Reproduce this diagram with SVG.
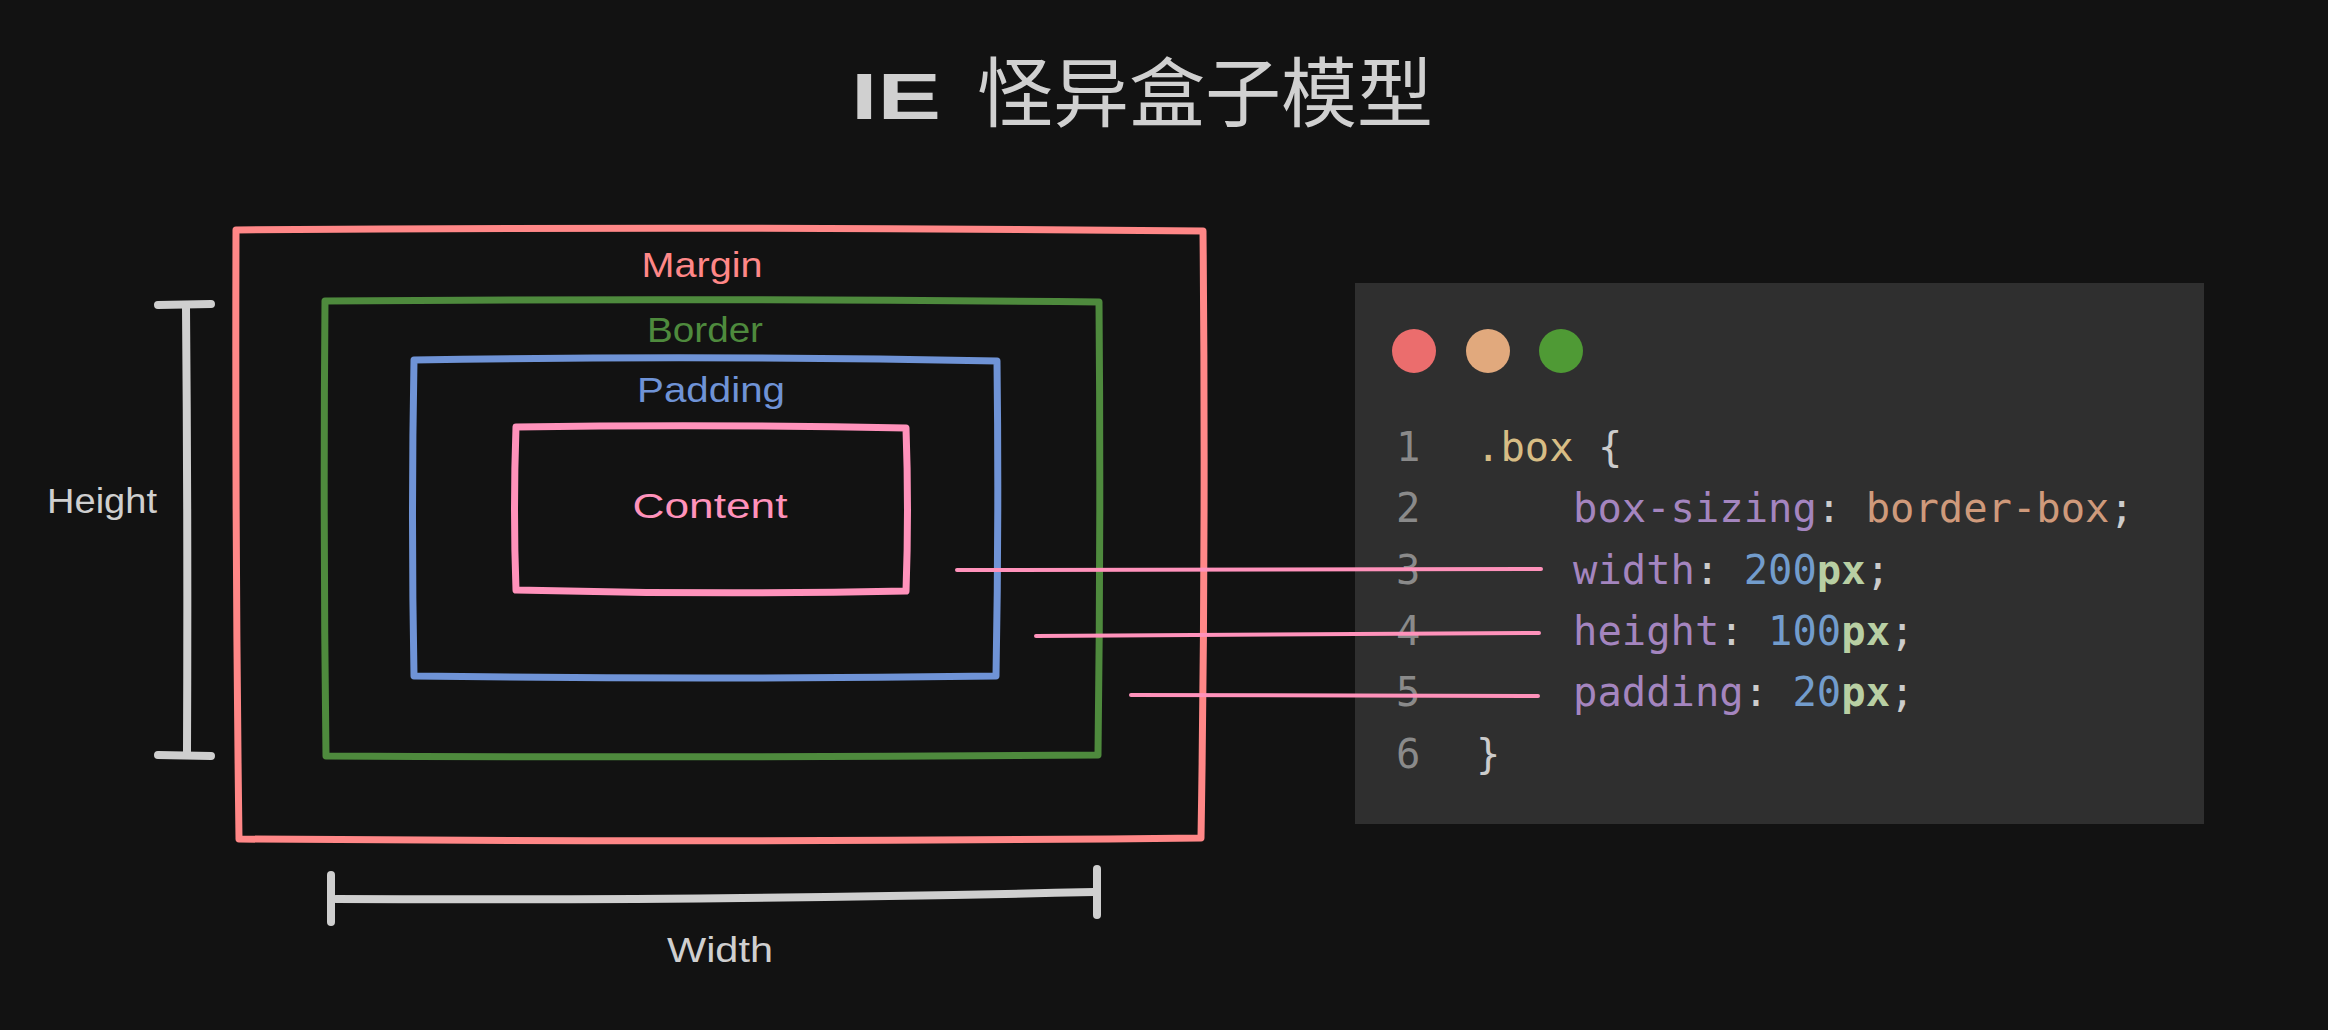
<svg xmlns="http://www.w3.org/2000/svg" width="2328" height="1030" viewBox="0 0 2328 1030">
<style>
.hand{font-family:"Liberation Sans","Noto Sans",sans-serif;text-anchor:middle}
.box{fill:none;stroke-linejoin:round;stroke-linecap:round}
.dim{fill:none;stroke:#cfcfcf;stroke-width:8;stroke-linecap:round}
.conn{fill:none;stroke:#ff92bb;stroke-width:4;stroke-linecap:round}
.code{font-family:"DejaVu Sans Mono","Liberation Mono",monospace;font-size:40.5px;white-space:pre}
.ln{fill:#8a8a8a}
.sel{fill:#d7bd85}
.br{fill:#cccccc}
.prop{fill:#a485bf}
.val{fill:#cf9a7b}
.num{fill:#729ccc}
.px{fill:#b8cfa3;font-weight:bold}
</style>
<rect width="2328" height="1030" fill="#121212"/>
<g id="title" fill="#d0d0d0">
<text x="851" y="119" font-family="Liberation Sans, sans-serif" font-size="64" font-weight="bold" textLength="90" lengthAdjust="spacingAndGlyphs">IE</text>
<text x="977" y="121" font-family="Noto Sans CJK SC, sans-serif" font-size="76">怪异盒子模型</text>
</g>

<g id="margin">
<path class="box" stroke="#ff8787" stroke-width="7" d="M236 230 Q720 226 1203 231 Q1206 535 1201 838 Q720 843 239 839 Q235 535 236 230 Z"/>
<text class="hand" x="702" y="277" font-size="35" fill="#ff8787" textLength="121" lengthAdjust="spacingAndGlyphs">Margin</text>
</g>
<g id="border">
<path class="box" stroke="#4e8a3d" stroke-width="7" d="M325 301 Q712 298 1099 302 Q1101 530 1098 755 Q712 758 326 756 Q323 530 325 301 Z"/>
<text class="hand" x="705" y="342" font-size="35" fill="#4e8a3d" textLength="116" lengthAdjust="spacingAndGlyphs">Border</text>
</g>
<g id="padding">
<path class="box" stroke="#6f93d6" stroke-width="7" d="M414 360 Q705 355 997 361 Q999 520 996 676 Q705 680 414 676 Q411 520 414 360 Z"/>
<text class="hand" x="711" y="402" font-size="35" fill="#6f93d6" textLength="148" lengthAdjust="spacingAndGlyphs">Padding</text>
</g>
<g id="content">
<path class="box" stroke="#ff92bb" stroke-width="7" d="M516 427 Q711 424 906 428 Q909 510 906 591 Q711 595 516 590 Q513 510 516 427 Z"/>
<text class="hand" x="710" y="518" font-size="35" fill="#ff92bb" textLength="155" lengthAdjust="spacingAndGlyphs">Content</text>
</g>

<g id="height-dim">
<path class="dim" d="M186 308 Q188 530 187 752"/>
<path class="dim" d="M158 305 L211 304"/>
<path class="dim" d="M158 755 L211 756"/>
<text class="hand" x="102" y="513" font-size="35" fill="#cfcfcf" textLength="110" lengthAdjust="spacingAndGlyphs">Height</text>
</g>
<g id="width-dim">
<path class="dim" d="M336 899 Q700 901 1094 892"/>
<path class="dim" d="M331 875 L331 922"/>
<path class="dim" d="M1097 869 L1097 915"/>
<text class="hand" x="720" y="962" font-size="35" fill="#cfcfcf" textLength="106" lengthAdjust="spacingAndGlyphs">Width</text>
</g>

<g id="code-panel">
<rect x="1355" y="283" width="849" height="541" fill="#2f2f2f"/>
<circle cx="1414" cy="351" r="22" fill="#eb6d6d"/>
<circle cx="1488" cy="351" r="22" fill="#e1a97d"/>
<circle cx="1561" cy="351" r="22" fill="#4f9a35"/>
<text class="code" y="461"><tspan class="ln" x="1396">1</tspan><tspan class="sel" x="1476">.box</tspan><tspan class="br"> {</tspan></text>
<text class="code" y="522"><tspan class="ln" x="1396">2</tspan><tspan class="prop" x="1573">box-sizing</tspan><tspan class="br">: </tspan><tspan class="val">border-box</tspan><tspan class="br">;</tspan></text>
<text class="code" y="584"><tspan class="ln" x="1396">3</tspan><tspan class="prop" x="1573">width</tspan><tspan class="br">: </tspan><tspan class="num">200</tspan><tspan class="px">px</tspan><tspan class="br">;</tspan></text>
<text class="code" y="645"><tspan class="ln" x="1396">4</tspan><tspan class="prop" x="1573">height</tspan><tspan class="br">: </tspan><tspan class="num">100</tspan><tspan class="px">px</tspan><tspan class="br">;</tspan></text>
<text class="code" y="706"><tspan class="ln" x="1396">5</tspan><tspan class="prop" x="1573">padding</tspan><tspan class="br">: </tspan><tspan class="num">20</tspan><tspan class="px">px</tspan><tspan class="br">;</tspan></text>
<text class="code" y="768"><tspan class="ln" x="1396">6</tspan><tspan class="br" x="1476">}</tspan></text>
</g>

<g id="connectors">
<path class="conn" d="M957 570 L1541 569"/>
<path class="conn" d="M1036 636 L1539 633"/>
<path class="conn" d="M1131 695 L1538 696"/>
</g>
</svg>
